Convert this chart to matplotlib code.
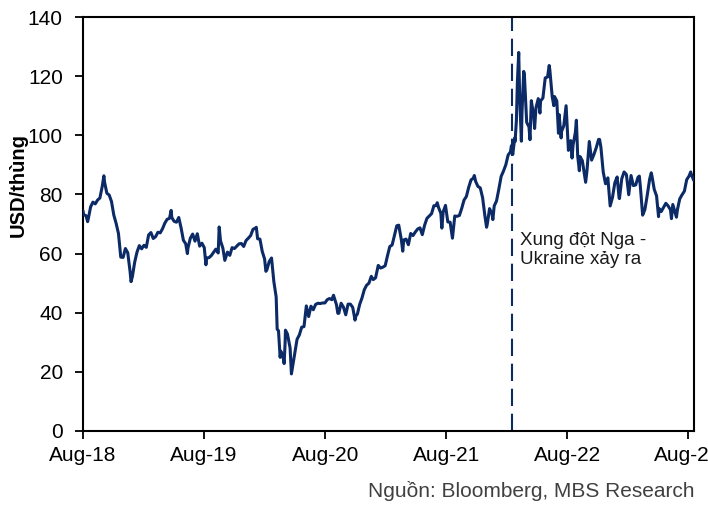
import matplotlib
matplotlib.use("Agg")
import matplotlib.pyplot as plt
import matplotlib.dates as mdates
import pandas as pd

plt.rcParams['font.family'] = ['Liberation Sans', 'DejaVu Sans']

# Brent crude price (USD/barrel), mostly weekly closes plus notable daily highs/lows
dates = [
    "2018-08-01", "2018-08-03", "2018-08-10", "2018-08-15", "2018-08-17", "2018-08-24", "2018-08-31",
    "2018-09-07", "2018-09-14", "2018-09-21", "2018-09-28", "2018-10-03", "2018-10-05", "2018-10-12",
    "2018-10-19", "2018-10-26", "2018-11-02", "2018-11-09", "2018-11-16", "2018-11-23", "2018-11-30",
    "2018-12-07", "2018-12-14", "2018-12-21", "2018-12-24", "2018-12-28",
    "2019-01-04", "2019-01-11", "2019-01-18", "2019-01-25", "2019-02-01", "2019-02-08", "2019-02-15",
    "2019-02-22", "2019-03-01", "2019-03-08", "2019-03-15", "2019-03-22", "2019-03-29", "2019-04-05",
    "2019-04-12", "2019-04-19", "2019-04-24", "2019-04-26", "2019-05-03", "2019-05-10", "2019-05-17",
    "2019-05-24", "2019-05-31", "2019-06-07", "2019-06-12", "2019-06-14", "2019-06-21", "2019-06-28",
    "2019-07-05", "2019-07-12", "2019-07-19", "2019-07-26", "2019-08-02", "2019-08-07", "2019-08-09",
    "2019-08-16", "2019-08-23", "2019-08-30", "2019-09-06", "2019-09-13", "2019-09-16", "2019-09-20",
    "2019-09-27", "2019-10-03", "2019-10-11", "2019-10-18", "2019-10-25", "2019-11-01", "2019-11-08",
    "2019-11-15", "2019-11-22", "2019-11-29", "2019-12-06", "2019-12-13", "2019-12-20", "2019-12-27",
    "2020-01-03", "2020-01-06", "2020-01-10", "2020-01-17", "2020-01-24", "2020-01-31", "2020-02-04",
    "2020-02-07", "2020-02-14", "2020-02-21", "2020-02-28", "2020-03-06", "2020-03-09", "2020-03-13",
    "2020-03-18", "2020-03-20", "2020-03-27", "2020-03-30", "2020-04-02", "2020-04-03", "2020-04-09",
    "2020-04-17", "2020-04-21", "2020-04-24", "2020-05-01", "2020-05-08", "2020-05-15", "2020-05-22",
    "2020-05-29", "2020-06-05", "2020-06-12", "2020-06-19", "2020-06-26", "2020-07-03", "2020-07-10",
    "2020-07-17", "2020-07-24", "2020-07-31", "2020-08-07", "2020-08-14", "2020-08-21", "2020-08-26",
    "2020-09-04", "2020-09-08", "2020-09-11", "2020-09-18", "2020-09-25", "2020-10-02", "2020-10-09",
    "2020-10-16", "2020-10-23", "2020-10-30", "2020-11-02", "2020-11-06", "2020-11-13", "2020-11-20",
    "2020-11-27", "2020-12-04", "2020-12-11", "2020-12-18", "2020-12-24", "2020-12-31",
    "2021-01-08", "2021-01-15", "2021-01-22", "2021-01-29", "2021-02-05", "2021-02-12", "2021-02-19",
    "2021-02-26", "2021-03-05", "2021-03-11", "2021-03-19", "2021-03-23", "2021-03-26", "2021-04-02",
    "2021-04-09", "2021-04-16", "2021-04-23", "2021-04-30", "2021-05-07", "2021-05-14", "2021-05-21",
    "2021-05-28", "2021-06-04", "2021-06-11", "2021-06-18", "2021-06-25", "2021-07-02", "2021-07-05",
    "2021-07-09", "2021-07-16", "2021-07-19", "2021-07-23", "2021-07-30", "2021-08-06", "2021-08-13",
    "2021-08-20", "2021-08-27", "2021-09-03", "2021-09-10", "2021-09-17", "2021-09-24", "2021-10-01",
    "2021-10-08", "2021-10-15", "2021-10-22", "2021-10-25", "2021-10-29", "2021-11-05", "2021-11-12",
    "2021-11-19", "2021-11-26", "2021-12-01", "2021-12-03", "2021-12-10", "2021-12-17", "2021-12-20",
    "2021-12-24", "2021-12-31",
    "2022-01-07", "2022-01-14", "2022-01-21", "2022-01-28", "2022-02-04", "2022-02-11", "2022-02-14",
    "2022-02-18", "2022-02-24", "2022-02-25", "2022-03-01", "2022-03-04", "2022-03-08", "2022-03-11",
    "2022-03-16", "2022-03-18", "2022-03-23", "2022-03-25", "2022-04-01", "2022-04-08", "2022-04-11",
    "2022-04-15", "2022-04-22", "2022-04-25", "2022-04-29", "2022-05-06", "2022-05-11", "2022-05-13",
    "2022-05-20", "2022-05-27", "2022-06-03", "2022-06-08", "2022-06-10", "2022-06-17", "2022-06-22",
    "2022-06-24", "2022-07-01", "2022-07-06", "2022-07-08", "2022-07-14", "2022-07-15", "2022-07-22",
    "2022-07-29", "2022-08-05", "2022-08-12", "2022-08-16", "2022-08-19", "2022-08-26", "2022-08-29",
    "2022-09-02", "2022-09-07", "2022-09-09", "2022-09-16", "2022-09-23", "2022-09-26", "2022-09-30",
    "2022-10-07", "2022-10-14", "2022-10-21", "2022-10-28", "2022-11-04", "2022-11-07", "2022-11-11",
    "2022-11-18", "2022-11-25", "2022-12-02", "2022-12-09", "2022-12-16", "2022-12-23", "2022-12-30",
    "2023-01-05", "2023-01-06", "2023-01-13", "2023-01-20", "2023-01-27", "2023-02-03", "2023-02-10",
    "2023-02-17", "2023-02-24", "2023-03-03", "2023-03-07", "2023-03-10", "2023-03-17", "2023-03-20",
    "2023-03-24", "2023-03-31", "2023-04-07", "2023-04-12", "2023-04-14", "2023-04-21", "2023-04-28",
    "2023-05-04", "2023-05-05", "2023-05-12", "2023-05-19", "2023-05-26", "2023-06-02", "2023-06-09",
    "2023-06-12", "2023-06-16", "2023-06-23", "2023-06-27", "2023-06-30", "2023-07-07", "2023-07-14",
    "2023-07-21", "2023-07-28", "2023-08-04", "2023-08-09", "2023-08-11", "2023-08-18",
]

brent = [
    74.5, 73.2, 72.8, 70.8, 71.8, 75.8, 77.4,
    76.8, 78.1, 78.8, 82.7, 86.3, 84.2, 80.4,
    79.8, 77.6, 73.0, 70.2, 66.8, 58.8, 58.7,
    61.7, 60.3, 54.0, 50.5, 52.2,
    57.1, 60.5, 62.7, 61.6, 62.8, 62.1, 66.3,
    67.1, 65.1, 65.7, 67.2, 67.0, 68.4, 70.3,
    71.6, 71.9, 74.6, 72.2, 70.9, 70.6, 72.2,
    68.7, 64.5, 63.3, 60.0, 62.0, 65.2, 66.6,
    64.2, 66.7, 62.5, 63.5, 62.0, 56.2, 58.5,
    58.6, 59.3, 60.4, 61.5, 60.2, 69.0, 64.3,
    61.9, 57.7, 60.5, 59.4, 62.0, 61.7, 62.5,
    63.3, 63.4, 62.4, 64.4, 65.2, 66.1, 68.2,
    68.6, 68.9, 65.0, 64.9, 60.7, 58.2, 54.0,
    54.5, 57.3, 58.5, 50.5, 45.3, 34.4, 33.9,
    24.9, 27.0, 24.9, 22.8, 29.9, 34.1, 32.8,
    28.1, 19.3, 21.4, 26.4, 31.0, 32.5, 35.1,
    35.3, 42.3, 38.7, 42.2, 41.0, 42.8, 43.2,
    43.1, 43.3, 43.3, 44.4, 44.8, 44.4, 45.9,
    42.7, 39.8, 39.8, 43.2, 41.9, 39.3, 42.9,
    42.9, 41.8, 37.5, 39.0, 39.5, 42.8, 45.0,
    47.8, 49.3, 50.0, 52.3, 51.2, 51.8,
    56.0, 55.1, 55.4, 55.9, 59.3, 62.4, 62.9,
    66.1, 69.4, 69.6, 64.5, 60.8, 64.6, 64.9,
    63.0, 66.8, 66.1, 67.3, 68.3, 68.7, 66.4,
    69.6, 71.9, 72.7, 73.5, 76.2, 76.2, 77.2,
    75.6, 73.6, 68.6, 74.1, 76.3, 70.7, 70.6,
    65.2, 72.7, 72.6, 72.9, 75.3, 78.1, 79.3,
    82.4, 84.9, 85.5, 86.4, 84.4, 82.7, 82.2,
    78.9, 72.7, 68.9, 69.9, 75.2, 73.5, 71.5,
    76.1, 77.8,
    81.8, 86.1, 87.9, 90.0, 93.3, 94.4, 96.5,
    93.5, 99.1, 97.9, 105.0, 118.1, 128.0, 112.7,
    98.0, 107.9, 121.6, 120.7, 104.4, 102.8, 98.5,
    111.7, 106.7, 102.3, 109.3, 112.4, 107.5, 111.6,
    112.6, 119.4, 119.7, 123.6, 122.0, 113.1, 110.0,
    113.1, 111.6, 100.7, 107.0, 99.1, 101.2, 103.2,
    110.0, 94.9, 98.2, 92.3, 96.7, 101.0, 105.1,
    93.0, 88.0, 92.8, 91.4, 86.2, 84.1, 88.0,
    97.9, 91.6, 93.5, 95.8, 98.6, 98.6, 96.0,
    87.6, 83.6, 85.6, 76.1, 79.0, 83.9, 85.9,
    78.7, 78.6, 85.3, 87.6, 86.7, 79.9, 86.4,
    83.0, 83.2, 85.8, 86.2, 82.8, 73.0, 73.8,
    75.0, 79.8, 85.1, 87.3, 86.3, 81.7, 79.5,
    72.5, 75.3, 74.2, 75.6, 77.0, 76.1, 74.8,
    71.8, 76.6, 73.9, 72.3, 74.9, 78.5, 79.9,
    81.1, 85.0, 86.2, 87.6, 86.8, 84.8,
]

tick_dates = ["2018-08-01", "2019-08-01", "2020-08-01", "2021-08-01", "2022-08-01", "2023-08-01"]
y_ticks = [0, 20, 40, 60, 80, 100, 120, 140]
conflict_date = "2022-02-15"
conflict_lines = ["Xung đột Nga -", "Ukraine xảy ra"]
y_label = "USD/thùng"
source_note = "Nguồn: Bloomberg, MBS Research"

NAVY = "#0B2A66"

W, H = 708, 507
fig = plt.figure(figsize=(W / 100, H / 100), dpi=100)
ax = fig.add_axes([83 / W, 76 / H, 611 / W, 414 / H])

ax.plot(pd.to_datetime(dates), brent, color=NAVY, lw=2.2,
        solid_joinstyle="round", solid_capstyle="round", zorder=3)
ax.axvline(pd.Timestamp(conflict_date), color=NAVY, lw=1.5,
           dashes=(8.3, 3.7), zorder=2)

ax.set_xlim(pd.Timestamp("2018-08-01"), pd.Timestamp("2023-08-19"))
ax.set_ylim(0, 140)
ax.set_yticks(y_ticks)
ax.set_xticks(pd.to_datetime(tick_dates))
ax.xaxis.set_major_formatter(mdates.DateFormatter("%b-%y"))

for sp in ax.spines.values():
    sp.set_linewidth(1.5)
    sp.set_color("black")

ax.tick_params(axis="both", direction="out", length=6, width=1.3,
               labelsize=15, colors="black")
ax.tick_params(axis="y", pad=8.5)
ax.tick_params(axis="x", pad=4.5)

# event annotation, one text per line so the baselines sit exactly
for yy, line in zip([0.4493, 0.4034], conflict_lines):
    ax.text(0.7152, yy, line, transform=ax.transAxes, fontsize=13.5,
            color="#1A1A1A", ha="left", va="baseline", zorder=5)

fig.text(18 / W, 1 - 185 / H, y_label, rotation=90, ha="center", va="center",
         fontsize=14.5, fontweight="bold", color="black")

fig.text(695 / W, 1 - 497 / H, source_note, ha="right", va="baseline",
         fontsize=15, color="#404040")

fig.savefig("out.png", dpi=100)
